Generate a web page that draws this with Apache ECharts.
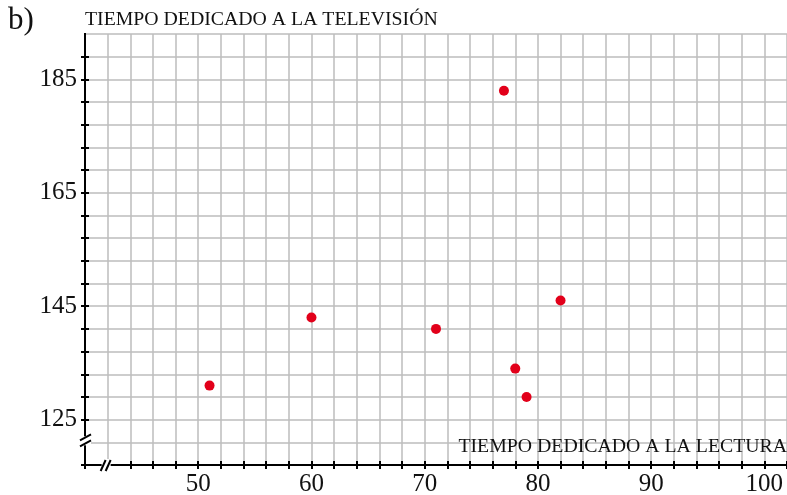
<!DOCTYPE html>
<html><head><meta charset="utf-8">
<script src="https://cdn.jsdelivr.net/npm/echarts@6/dist/echarts.min.js"></script>
<style>html,body{margin:0;padding:0;background:#fff}#c{width:787px;height:495px}</style>
</head><body><div id="c"></div>
<script>
const readingTime = [51, 60, 71, 77, 82, 78, 79];
const tvTime = [131, 143, 141, 183, 146, 134, 129];
const xTickLabels = [50, 60, 70, 80, 90, 100];
const yTickLabels = [125, 145, 165, 185];
const partLabel = 'b)';
const yTitle = 'TIEMPO DEDICADO A LA TELEVISIÓN';
const xTitle = 'TIEMPO DEDICADO A LA LECTURA';

const FONT = 'Liberation Serif';
const X_MIN = 40, X_MAX = 102, X_STEP = 2, X_BREAK = 42;
const Y_MIN = 117, Y_MAX = 193, Y_STEP = 4, Y_BREAK = 121;

const points = readingTime.map((x, i) => [x, tvTime[i]]);

const chart = echarts.init(document.getElementById('c'), null, {renderer: 'canvas'});

const gridLine = {show: true, lineStyle: {color: '#bdbdbd', width: 1.5}};
const tickStyle = {color: '#000', width: 2};

function xAx(main) {
  return {
    type: 'value', min: X_MIN, max: X_MAX, interval: X_STEP, position: 'bottom',
    axisLine: {show: main, onZero: false, lineStyle: {color: '#000', width: 2}},
    axisTick: {show: true, inside: !main, length: 4, lineStyle: tickStyle},
    axisLabel: {show: main, margin: 7, color: '#111', fontFamily: FONT, fontSize: 25,
      formatter: v => xTickLabels.includes(v) ? String(v) : ''},
    splitLine: main ? gridLine : {show: false}
  };
}
function yAx(main) {
  return {
    type: 'value', min: Y_MIN, max: Y_MAX, interval: Y_STEP, position: 'left',
    axisLine: {show: main, onZero: false, lineStyle: {color: '#000', width: 2}},
    axisTick: {show: true, inside: !main, length: 4, lineStyle: tickStyle},
    axisLabel: {show: main, margin: 8, color: '#111', fontFamily: FONT, fontSize: 25,
      formatter: v => yTickLabels.includes(v) ? String(v) : ''},
    splitLine: main ? gridLine : {show: false}
  };
}

chart.setOption({
  animation: false,
  backgroundColor: '#fff',
  grid: {left: 85, right: 0, top: 34, bottom: 30, containLabel: false, outerBoundsMode: 'none'},
  xAxis: [xAx(true), xAx(false)],
  yAxis: [yAx(true), yAx(false)],
  series: [{
    type: 'scatter', xAxisIndex: 0, yAxisIndex: 0, data: points,
    symbolSize: 10, itemStyle: {color: '#e2001a', opacity: 1}, z: 10
  }]
});

// decorations: axis breaks, titles
const pO = chart.convertToPixel({xAxisIndex: 0, yAxisIndex: 0}, [X_MIN, Y_BREAK]);
const pX = chart.convertToPixel({xAxisIndex: 0, yAxisIndex: 0}, [X_BREAK, Y_MIN]);
const pT = chart.convertToPixel({xAxisIndex: 0, yAxisIndex: 0}, [X_MIN, Y_MAX]);
const brk = {stroke: '#000', lineWidth: 2};
const g = [
  // hide end tick at top
  {type: 'rect', shape: {x: pT[0] - 6, y: pT[1] - 3, width: 5, height: 6}, style: {fill: '#fff'}, z: 100},
  {type: 'rect', shape: {x: pT[0] + 1, y: pT[1] - 2, width: 5, height: 4}, style: {fill: '#fff'}, z: 100},
  {type: 'line', shape: {x1: pT[0] + 1, y1: pT[1], x2: pT[0] + 6, y2: pT[1]}, style: {stroke: '#bdbdbd', lineWidth: 1.5}, z: 101},
  // y-axis break
  {type: 'rect', shape: {x: pO[0] - 6, y: pO[1] - 6, width: 12, height: 9}, style: {fill: '#fff'}, z: 100},
  {type: 'line', shape: {x1: pO[0] - 5, y1: pO[1] - 2, x2: pO[0] + 6, y2: pO[1] - 8}, style: brk, z: 101},
  {type: 'line', shape: {x1: pO[0] - 5, y1: pO[1] + 4, x2: pO[0] + 6, y2: pO[1] - 2}, style: brk, z: 101},
  // x-axis break
  {type: 'rect', shape: {x: pX[0] - 6, y: pX[1] - 6, width: 9, height: 12}, style: {fill: '#fff'}, z: 100},
  {type: 'line', shape: {x1: pX[0] - 7, y1: pX[1] + 6, x2: pX[0] - 2, y2: pX[1] - 5}, style: brk, z: 101},
  {type: 'line', shape: {x1: pX[0] - 2, y1: pX[1] + 6, x2: pX[0] + 3, y2: pX[1] - 5}, style: brk, z: 101},
  // texts
  {type: 'text', left: 8, top: 5, style: {text: partLabel, font: '31px "' + FONT + '"', fill: '#111'}, z: 100},
  {type: 'text', left: 85, top: 10, style: {text: yTitle, font: '19.8px "' + FONT + '"', fill: '#111'}, z: 100},
  {type: 'text', right: 0, top: 437, style: {text: xTitle, font: '19.8px "' + FONT + '"', fill: '#111'}, z: 100}
];
chart.setOption({graphic: g});
</script>
</body></html>
